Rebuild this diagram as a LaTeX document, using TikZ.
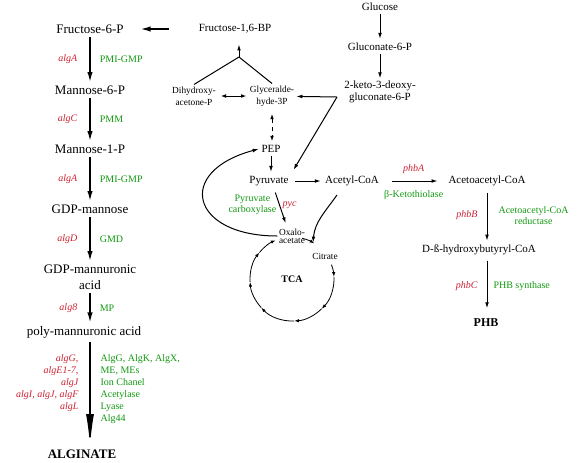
\documentclass[tikz,border=0pt]{standalone}
\usepackage{fontspec}
\setmainfont{Liberation Serif}
\usetikzlibrary{arrows.meta,calc}
\definecolor{genered}{HTML}{CC2233}
\definecolor{enzgreen}{HTML}{119911}

\begin{document}
\begin{tikzpicture}[x=0.75pt,y=-0.75pt,
    bigmet/.style={font=\fontsize{9.75}{12}\selectfont, inner sep=2.5pt},
    met/.style={font=\fontsize{8.25}{8.5}\selectfont, inner sep=2pt},
    smallmet/.style={font=\fontsize{7}{9}\selectfont, inner sep=1.5pt, align=center},
    gene/.style={font=\fontsize{7.5}{9}\selectfont\itshape, text=genered, inner sep=1pt},
    enz/.style={font=\fontsize{7.5}{9}\selectfont, text=enzgreen, inner sep=1pt},
    flow/.style={-{Latex[length=7.5pt,width=4pt]}, line width=1.1pt},
    bigflow/.style={-{Latex[length=24pt,width=6pt]}, line width=1.1pt},
    conv/.style={-{Latex[length=4.5pt,width=2.8pt]}, line width=0.75pt},
    dconv/.style={{Latex[length=4pt,width=2.8pt]}-{Latex[length=4pt,width=2.8pt]}, line width=0.75pt},
    cyc/.style={-{Latex[length=3.5pt,width=2.5pt]}, line width=0.6pt}]
\useasboundingbox (0,0) rectangle (578,462);

%alginate branch
\node [bigmet] (f6p)   at (90,29)  {Fructose-6-P};
\node [bigmet] (m6p)   at (90,90)  {Mannose-6-P};
\node [bigmet] (m1p)   at (90,149) {Mannose-1-P};
\node [bigmet] (gdpm)  at (90,209) {GDP-mannose};
\node [bigmet,align=center] (gdpma) at (90,277) {GDP-mannuronic\\acid};
\node [bigmet] (polym) at (84,332) {poly-mannuronic acid};
\node [bigmet,font=\fontsize{9.75}{12}\selectfont\bfseries] (alg) at (82,454) {ALGINATE};

\draw [flow] (f6p) -- node[gene,midway,left=8pt]{algA} node[enz,midway,right=5.8pt]{PMI-GMP} (m6p);
\draw [flow] (m6p) -- node[gene,midway,left=8pt]{algC} node[enz,midway,right=5.8pt]{PMM} (m1p);
\draw [flow] (m1p) -- node[gene,midway,left=8pt]{algA} node[enz,midway,right=5.8pt]{PMI-GMP} (gdpm);
\draw [flow] (gdpm) -- node[gene,midway,left=8pt]{algD} node[enz,midway,right=5.8pt]{GMD} (gdpma);
\draw [flow] (gdpma.south) -- node[gene,midway,left=8pt]{alg8} node[enz,midway,right=5.8pt]{MP} (gdpma.south |- polym.north);
\draw [bigflow] (polym.south -| gdpma.south) -- (gdpma.south |- alg.north);

%modification genes
\node [gene,align=right,anchor=north east] (modgenes) at (80,353)
  {algG,\\algE1-7,\\algJ\\algI, algJ, algF\\algL};
\node [enz,align=left,anchor=north west] (modenz) at (99,353)
  {AlgG, AlgK, AlgX,\\ME, MEs\\Ion Chanel\\Acetylase\\Lyase\\Alg44};

%glycolysis
\node [met] (f16bp) at (235,29) {Fructose-1,6-BP};
\draw [flow, shorten <=20pt, shorten >=10pt] (f16bp) -- (f6p);

\node [smallmet] (dhap) at (194,96) {Dihydroxy-\\acetone-P};
\node [smallmet] (gap)  at (272,96) {Glyceralde-\\hyde-3P};
\coordinate (fork) at (239,57);
\draw [conv, shorten >=6pt] (fork) -- (fork |- f16bp.south);
\draw [line width=0.75pt] (fork) -- (dhap.north);
\draw [line width=0.75pt] (fork) -- (gap.north);
\draw [dconv, shorten <=2pt, shorten >=1pt] (dhap) -- (gap);

%entner-doudoroff
\node [met] (glc)   at (380,7)  {Glucose};
\node [met] (glc6p) at (380,47) {Gluconate-6-P};
\node [met,align=center] (kdpg) at (380,92) {2-keto-3-deoxy-\\gluconate-6-P};
\draw [conv, shorten >=1pt] (glc) -- (glc6p);
\draw [conv] (glc6p) -- (kdpg);
\coordinate (kink) at (337,97);
\draw [conv] (kink) -- (gap);

\node [met] (pep)  at (271,149) {PEP};
\node [met] (pyr)  at (269,181) {Pyruvate};
\node [met] (acoa) at (352,181) {Acetyl-CoA};
\draw [conv, shorten >=3pt] (kink) -- (pyr.north east);
\draw [dconv, dashed, shorten <=4pt, shorten >=1pt] (gap.south) -- (gap.south |- pep.north);
\draw [conv, shorten >=1pt] (pep) -- (pep |- pyr.north);
\draw [conv, shorten <=3pt, shorten >=1pt] (pyr) -- (acoa);

%TCA cycle
\node [smallmet,font=\fontsize{7}{6}\selectfont,inner sep=1pt] (oaa) at (292,236) {Oxalo-\\acetate};
\node [smallmet] (cit) at (325,256) {Citrate};
\node [font=\fontsize{7.5}{9}\selectfont\bfseries] (tca) at (292,279) {TCA};

\draw [conv, shorten <=3pt, shorten >=3pt] ($(pyr.south)+(5,0)$) --
  node[enz,pos=0.42,left=1pt,align=center,font=\fontsize{7.5}{6.75}\selectfont]{Pyruvate\\carboxylase}
  node[gene,pos=0.42,right=1pt]{pyc} ($(oaa.north)+(-5,0)$);
\draw [conv] (oaa.west) to [out=180,in=195,looseness=2.5] (pep.west);

\coordinate (cjoin) at ($(tca)+(-60:42)$);
\draw [conv] ($(acoa.south)+(-15,6)$) to [out=-125,in=85] (cjoin);

\foreach \a/\b in {-76/-58, -20/-3, -3/45, 45/87, 87/137, 137/176, 176/219, 219/247}
  \draw [cyc] ($(tca)+(\a:42)$) arc [start angle=\a, end angle=\b, radius=42];

%PHB branch
\node [met] (aacoa) at (487,181) {Acetoacetyl-CoA};
\node [met] (hbcoa) at (479,250) {D-ß-hydroxybutyryl-CoA};
\node [font=\fontsize{9}{11}\selectfont\bfseries] (phb) at (486,323) {PHB};

\draw [conv, shorten <=8pt, shorten >=6pt] (acoa) --
  node[gene,midway,above=4.3pt]{phbA} node[enz,midway,below=6pt]{β-Ketothiolase} (aacoa);
\draw [conv, shorten <=3pt, shorten >=1pt] (aacoa.south) --
  node[gene,midway,left=5.8pt]{phbB}
  node[enz,midway,right=7.3pt,align=center,font=\fontsize{7.5}{8.25}\selectfont]{Acetoacetyl-CoA\\reductase}
  (aacoa.south |- hbcoa.north);
\draw [conv, shorten <=2pt, shorten >=4.5pt] (hbcoa.south -| aacoa.south) --
  node[gene,midway,left=5.8pt]{phbC} node[enz,midway,right=3.5pt]{PHB synthase} (aacoa.south |- phb.north);

\end{tikzpicture}
\end{document}
